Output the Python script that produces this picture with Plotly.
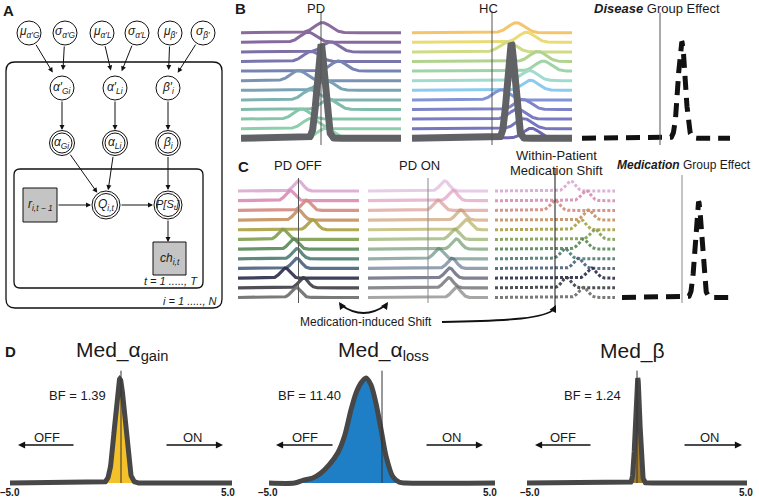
import numpy as np
import plotly.graph_objects as go

W, H = 759, 497
FONT = "Liberation Sans, Arial, sans-serif"

# ---------------- data ----------------
# Panel B: per-subject posterior peak locations (top row first)
pd_peaks = [0.1, -0.8, 0.6, -0.6, 1.1, -1.4, 0.3, -0.65, 0.5, -1.2, -0.65, 0.3]
hc_peaks = [1.52, 2.15, 1.0, 2.87, 3.2, 2.35, 2.4, 0.58, 1.94, 1.6, 2.0, 2.45]
pd_group_mean, hc_group_mean = 0.0, 1.2
disease_effect_mean = 1.36
pd_colors = ['#8a6c9c', '#86699f', '#7e6fa6', '#7a76ad', '#7683b3', '#7a93b4',
             '#7aa3b4', '#7eb2b0', '#80bcaa', '#86c6a8', '#8ccfaa', '#96d6b0']
hc_colors = ['#f5c56b', '#e9dc76', '#cfdc85', '#b0d48f', '#9fd4a8', '#a1dbcf',
             '#8ccbee', '#8394d6', '#7f84c9', '#7a7bc2', '#7676be', '#6f67b3']

# Panel C
pd_off_peaks = [0.0, -0.69, 0.64, 0.0, 1.16, -1.3, -0.41, -0.14, -0.14, -1.1, 0.41, -0.2]
pd_on_peaks = [1.39, 2.08, 0.83, 2.72, 3.19, 2.22, 2.36, 0.89, 2.0, 1.8, 1.72, 2.36]
shift_peaks = [1.3, 2.58, 0.0, 2.78, 2.17, 3.33, 2.36, 0.83, 1.94, 3.05, 0.97, 2.36]
med_effect_mean = 1.38
c_colors = ['#d9a9d2', '#da8cb5', '#d48a80', '#c4905f', '#a8a043', '#7f9f4f',
            '#588a57', '#4d7c70', '#4a607f', '#2a2c4a', '#3c3c44', '#6b6b6b']

# Panel D
gain_mean, gain_sd = -0.05, 0.22
beta_mean, beta_sd = 0.03, 0.10
loss_x = [-5, -3.87, -3.5, -3.06, -2.7, -2.33, -1.96, -1.66, -1.37, -1.15, -0.93,
          -0.71, -0.49, -0.27, -0.04, 0.18, 0.47, 0.77, 1.06, 5]
loss_y = [0, 0, 0.026, 0.048, 0.096, 0.176, 0.288, 0.449, 0.705, 0.865, 0.962,
          1.01, 0.945, 0.769, 0.513, 0.257, 0.064, 0.007, 0, 0]
bf_values = ["1.39", "11.40", "1.24"]
d_titles = ["Med_α<sub>gain</sub>", "Med_α<sub>loss</sub>", "Med_β"]
d_fills = ['#f5c12a', '#1f7fc6', '#a27a2c']
tick_text = ["–5.0", "5.0"]

# Panel A graphical model
top_labels = ["μ<sub>α′G</sub>", "σ<sub>α′G</sub>", "μ<sub>α′L</sub>",
              "σ<sub>α′L</sub>", "μ<sub>β′</sub>", "σ<sub>β′</sub>"]
mid_labels = ["α′<sub>Gi</sub>", "α′<sub>Li</sub>", "β′<sub>i</sub>"]
low_labels = ["α<sub>Gi</sub>", "α<sub>Li</sub>", "β<sub>i</sub>"]

# ---------------- helpers ----------------
fig = go.Figure()
layout = {}
shapes = []
annos = []
axn = [1]


def new_axes(xpx, ypx, xr, yr):
    n = axn[0]
    axn[0] += 1
    sx = '' if n == 1 else str(n)
    layout['xaxis' + sx] = dict(domain=[xpx[0] / W, xpx[1] / W], range=xr,
                                visible=False, anchor='y' + sx, fixedrange=True)
    layout['yaxis' + sx] = dict(domain=[max(0, 1 - ypx[1] / H), min(1, 1 - ypx[0] / H)],
                                range=yr, visible=False, anchor='x' + sx, fixedrange=True)
    return 'x' + sx, 'y' + sx


def yr_from(b0, s, top, bot):
    return [(b0 - bot) / s, (b0 - top) / s]


def text(x, y, t, size=13, xa='x', ya='y', xanchor='center', color='#1a1a1a'):
    annos.append(dict(x=x, y=y, xref=xa, yref=ya, text=t, showarrow=False,
                      xanchor=xanchor, yanchor='middle',
                      font=dict(family=FONT, size=size, color=color)))


def arrow(x0, y0, x1, y1, xa='x', ya='y', ss=0, so=0, w=1.0, head=2, size=1.0):
    annos.append(dict(x=x1, y=y1, ax=x0, ay=y0, xref=xa, yref=ya, axref=xa, ayref=ya,
                      text='', showarrow=True, arrowhead=head, arrowsize=size,
                      arrowwidth=w, arrowcolor='#111', standoff=so, startstandoff=ss))


def vline(xa, ya, x=0, y0=None, y1=None, color='#555', width=1):
    if y0 is None:
        shapes.append(dict(type='line', xref=xa, yref=ya + ' domain', x0=x, x1=x, y0=0, y1=1,
                           line=dict(color=color, width=width)))
    else:
        shapes.append(dict(type='line', xref=xa, yref=ya, x0=x, x1=x, y0=y0, y1=y1,
                           line=dict(color=color, width=width)))


def gauss(x, mu, sd):
    return np.exp(-0.5 * ((x - mu) / sd) ** 2)


def ridges(xa, ya, xr, peaks, colors, sd, h, width, dash=None, opacity=1.0):
    xs = np.linspace(xr[0], xr[1], 500)
    for i, (mu, c) in enumerate(zip(peaks, colors)):
        base = len(peaks) - 1 - i
        fig.add_trace(go.Scatter(x=xs, y=base + h * gauss(xs, mu, sd), mode='lines',
                                 line=dict(color=c, width=width, dash=dash),
                                 opacity=opacity, xaxis=xa, yaxis=ya,
                                 hoverinfo='skip', showlegend=False))


def group_curve(xa, ya, xr, mu, sd, h, color, width, dash=None):
    xs = np.linspace(xr[0], xr[1], 800)
    fig.add_trace(go.Scatter(x=xs, y=h * gauss(xs, mu, sd), mode='lines',
                             line=dict(color=color, width=width, dash=dash),
                             xaxis=xa, yaxis=ya, hoverinfo='skip', showlegend=False))


# ---------------- overlay (pixel) axis for diagram & labels ----------------
OX, OY = new_axes((0, W), (0, H), [0, W], [H, 0])


def rrect(x0, y0, x1, y1, r):
    return (f"M {x0+r},{y0} L {x1-r},{y0} Q {x1},{y0} {x1},{y0+r} L {x1},{y1-r} "
            f"Q {x1},{y1} {x1-r},{y1} L {x0+r},{y1} Q {x0},{y1} {x0},{y1-r} "
            f"L {x0},{y0+r} Q {x0},{y0} {x0+r},{y0} Z")


# ---------------- Panel A ----------------
text(8, 10, "<b>A</b>", 15)
shapes.append(dict(type='path', xref='x', yref='y', path=rrect(6, 62, 222, 308, 9),
                   line=dict(color='#111', width=1.3)))
shapes.append(dict(type='path', xref='x', yref='y', path=rrect(14, 169, 203, 288, 6),
                   line=dict(color='#111', width=1.3)))

top_x = [29, 65, 102, 137, 170, 203]
mid_x = [62, 115, 168]
R = 12


def circle(cx, cy, r, double=False):
    shapes.append(dict(type='circle', xref='x', yref='y', x0=cx - r, x1=cx + r,
                       y0=cy - r, y1=cy + r, fillcolor='white', line=dict(color='#111', width=1)))
    if double:
        r2 = r - 2.5
        shapes.append(dict(type='circle', xref='x', yref='y', x0=cx - r2, x1=cx + r2,
                           y0=cy - r2, y1=cy + r2, line=dict(color='#111', width=1)))


for i, (x, lab) in enumerate(zip(top_x, top_labels)):
    circle(x, 33, R)
    text(x, 32, f"<i>{lab}</i>", 12)
for x, lab in zip(mid_x, mid_labels):
    circle(x, 88, R)
    text(x, 88, f"<i>{lab}</i>", 12)
for x, lab in zip(mid_x, low_labels):
    circle(x, 143, 12.5, double=True)
    text(x, 143, f"<i>{lab}</i>", 12)
circle(106, 205, 14, double=True)
text(106, 205, "<i>Q<sub>i,t</sub></i>", 12)
circle(168, 205, 14, double=True)
text(168, 205, "<i>P[S<sub>t</sub>]</i>", 11)
shapes.append(dict(type='rect', xref='x', yref='y', x0=23, x1=57, y0=188, y1=222,
                   fillcolor='#c4c4c4', line=dict(color='#111', width=1)))
text(40, 205, "<i>r<sub>i,t − 1</sub></i>", 12)
shapes.append(dict(type='rect', xref='x', yref='y', x0=153, x1=186, y0=242, y1=275,
                   fillcolor='#c4c4c4', line=dict(color='#111', width=1)))
text(169.5, 258.5, "<i>ch<sub>i,t</sub></i>", 12)
text(200, 281, "<i>t = 1 ....., T</i>", 11, xanchor='right')
text(219, 301, "<i>i = 1 ....., N</i>", 11, xanchor='right')

# edges
for k, x in enumerate(top_x):
    tgt = mid_x[k // 2]
    arrow(x, 33, tgt, 88, ss=R, so=18)
for x in mid_x:
    arrow(x, 88, x, 143, ss=R, so=13)
arrow(62, 143, 106, 205, ss=12.5, so=15)
arrow(115, 143, 106, 205, ss=12.5, so=15)
arrow(168, 143, 168, 205, ss=12.5, so=15)
arrow(57, 205, 106, 205, ss=0, so=15)
arrow(106, 205, 168, 205, ss=14, so=15)
arrow(168, 205, 168, 242, ss=14, so=0)

# ---------------- Panel B ----------------
text(240, 8, "<b>B</b>", 15)
text(316, 8, "PD", 13)
text(488, 8, "HC", 13)
text(657, 8, "<b><i>Disease</i></b> Group Effect", 13)

B0, BS = 138.3, 9.6
yrB = yr_from(B0, BS, 12.5, 145)
xa, ya = new_axes((241, 401), (12.5, 145), [-5, 5], yrB)
ridges(xa, ya, [-5, 5], pd_peaks, pd_colors, 0.5, 1.05, 3)
group_curve(xa, ya, [-5, 5], pd_group_mean, 0.24, 9.8, '#606266', 7)
vline(xa, ya)

xa, ya = new_axes((412, 572), (12.5, 145), [-5, 5], yrB)
ridges(xa, ya, [-5, 5], hc_peaks, hc_colors, 0.5, 1.05, 3)
group_curve(xa, ya, [-5, 5], hc_group_mean, 0.24, 9.9, '#606266', 7)
vline(xa, ya)

xrD = [(582 - 660) / 16, (730 - 660) / 16]
xa, ya = new_axes((582, 730), (12.5, 145), xrD, yrB)
group_curve(xa, ya, xrD, disease_effect_mean, 0.22, 10.06, '#111111', 5, dash='14px,8px')
vline(xa, ya)

# ---------------- Panel C ----------------
text(243, 166, "<b>C</b>", 15)
text(298, 165, "PD OFF", 13)
text(419, 165, "PD ON", 13)
text(556, 155, "Within-Patient", 13)
text(556, 170, "Medication Shift", 13)
text(684, 165, "<b><i>Medication</i></b> Group Effect", 12)

C0, CS = 297.5, 9.68
yrC = yr_from(C0, CS, 178, 303)
xa, ya = new_axes((238, 359), (178, 303), [-5, 5], yrC)
ridges(xa, ya, [-5, 5], pd_off_peaks, c_colors, 0.38, 1.05, 3.2, opacity=0.9)
vline(xa, ya)

xa, ya = new_axes((368, 488), (178, 303), [-5, 5], yrC)
ridges(xa, ya, [-5, 5], pd_on_peaks, c_colors, 0.38, 1.05, 3.2, opacity=0.6)
vline(xa, ya, color='#888')

xa, ya = new_axes((495, 615), (168, 310), [-5, 5], yr_from(C0, CS, 168, 310))
ridges(xa, ya, [-5, 5], shift_peaks, c_colors, 0.38, 1.05, 3, dash='3px,2px', opacity=0.9)
vline(xa, ya, color='#111')

xrM = [(622 - 682) / 12, (733 - 682) / 12]
xa, ya = new_axes((622, 733), (175, 303), xrM, yr_from(C0, CS, 175, 303))
group_curve(xa, ya, xrM, med_effect_mean, 0.27, 9.9, '#111111', 5, dash='14px,8px')
vline(xa, ya, color='#888')

# medication-induced shift arrows
text(366, 322, "Medication-induced Shift", 12)
shapes.append(dict(type='path', xref='x', yref='y', path="M 341,305 Q 363.5,321 386,305",
                   line=dict(color='#111', width=1.8)))
arrow(343, 308, 339, 302, w=1.8, size=0.8)
arrow(384, 308, 388, 302, w=1.8, size=0.8)
shapes.append(dict(type='path', xref='x', yref='y', path="M 442,322 C 512,321 546,318 554,309",
                   line=dict(color='#111', width=1.8)))
arrow(553, 311, 556, 305, w=1.8, size=0.8)

# ---------------- Panel D ----------------
text(10, 351, "<b>D</b>", 15)
D0, DS = 483, 104.0
yrDD = yr_from(D0, DS, 332, 489)
d_dom = [(10, 232), (269, 495), (527, 747)]
tick_px = [(10, 228), (268, 490), (530, 746)]
title_x = [122, 383, 632]
bf_x = [77, 309, 592]
off_txt = [47, 305, 563]
off_arr = [(75, 18), (334, 276), (592, 535)]
on_txt = [193, 452, 710]
on_arr = [(165, 223), (425, 483), (683, 742)]
xsD = np.linspace(-5, 5, 1201)
curves = [(xsD, gauss(xsD, gain_mean, gain_sd)),
          (loss_x, loss_y),
          (xsD, 1.01 * gauss(xsD, beta_mean, beta_sd))]
for k in range(3):
    xa, ya = new_axes(d_dom[k], (332, 489), [-5, 5], yrDD)
    cx, cy = curves[k]
    fig.add_trace(go.Scatter(x=cx, y=cy, mode='lines', fill='tozeroy',
                             fillcolor=d_fills[k],
                             line=dict(color='#474747', width=5,
                                       shape='spline' if k == 1 else 'linear', smoothing=0.8),
                             xaxis=xa, yaxis=ya, hoverinfo='skip', showlegend=False))
    vline(xa, ya, 0, 0, 1.08, color='#333', width=1)
    text(tick_px[k][0], 492, f"<b>{tick_text[0]}</b>", 10)
    text(tick_px[k][1], 492, f"<b>{tick_text[1]}</b>", 10)
    text(title_x[k], 351, d_titles[k], 21)
    text(bf_x[k], 395, f"BF = {bf_values[k]}", 13)
    text(off_txt[k], 437, "OFF", 13)
    text(on_txt[k], 437, "ON", 13)
    arrow(off_arr[k][0], 445, off_arr[k][1], 445, w=1.3, size=1.1)
    arrow(on_arr[k][0], 445, on_arr[k][1], 445, w=1.3, size=1.1)

fig.update_layout(**layout)
fig.update_layout(width=W, height=H, autosize=False, margin=dict(l=0, r=0, t=0, b=0),
                  paper_bgcolor='white', plot_bgcolor='rgba(0,0,0,0)',
                  shapes=shapes, annotations=annos, showlegend=False,
                  font=dict(family=FONT))
fig.write_html("out.html", config={'displayModeBar': False, 'staticPlot': True},
               post_script="document.body.style.margin='0px';")
